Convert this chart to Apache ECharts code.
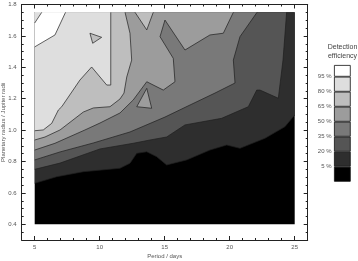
<!DOCTYPE html>
<html style="height: 100%">

<head>
    <meta charset="utf-8">
</head>

<body style="height: 100%; margin: 0; background: #fff">
    <div id="container" style="width: 358px; height: 261px"></div>
    <script src="https://cdn.jsdelivr.net/npm/echarts@6/dist/echarts.min.js"></script>
    <script type="text/javascript">
        var dom = document.getElementById("container");
        var myChart = echarts.init(dom);
        var font = "'Liberation Sans', Arial, sans-serif";

        // efficiency levels (%) and the grey used above each one
        var levels = [0, 5, 20, 35, 50, 65, 80, 95];
        var shades = ['#000000', '#2e2e2e', '#555555', '#797979', '#9c9c9c', '#bebebe', '#dedede', '#ffffff'];
        var levelLabels = ['5 %', '20 %', '35 %', '50 %', '65 %', '80 %', '95 %'];

        // axes
        var periodTicks = [5, 10, 15, 20, 25];
        var periodMinor = [4, 5, 6, 7, 8, 9, 10, 11, 12, 13, 14, 15, 16, 17, 18, 19, 20, 21, 22, 23, 24, 25, 26];
        var radiusTicks = [0.4, 0.6, 0.8, 1.0, 1.2, 1.4, 1.6, 1.8];
        var radiusMinor = [0.3, 0.35, 0.4, 0.45, 0.5, 0.55, 0.6, 0.65, 0.7, 0.75, 0.8, 0.85, 0.9, 0.95, 1.0,
            1.05, 1.1, 1.15, 1.2, 1.25, 1.3, 1.35, 1.4, 1.45, 1.5, 1.55, 1.6, 1.65, 1.7, 1.75, 1.8];

        // simulated grid extent
        var periodSpan = [5, 25];
        var radiusSpan = [0.4, 1.75];

        // contour lines [period, radius]; efficiency is above the level on the upper/left side
        var contour5 = [[5, 0.661], [6.69, 0.703], [8.74, 0.735], [11.56, 0.757], [12.33, 0.789], [12.85, 0.852],
            [13.62, 0.862], [14.38, 0.831], [15.15, 0.778], [16.69, 0.81], [18.48, 0.873], [19.77, 0.905],
            [20.79, 0.884], [22.72, 0.948], [24.25, 1.022], [25, 1.096]];
        var contour20 = [[5, 0.75], [6.95, 0.79], [10.02, 0.88], [12.58, 0.916], [13.87, 0.937], [15.15, 0.956],
            [16.56, 1.033], [19.38, 1.075], [21.43, 1.149], [22.08, 1.255], [22.33, 1.255], [23.74, 1.203],
            [24.1, 1.446], [24.38, 1.75]];
        var contour35 = [[5, 0.81], [6.95, 0.861], [9.51, 0.918], [12.33, 0.988], [15.02, 1.083], [16.95, 1.16],
            [18.87, 1.236], [20.41, 1.3], [20.28, 1.446], [20.79, 1.595], [22.1, 1.75]];
        var contour50 = [[5, 0.873], [6.56, 0.916], [8.87, 1.001], [10.02, 1.045], [11.56, 1.109], [12.58, 1.192],
            [13.62, 1.308], [14.89, 1.255], [15.79, 1.308], [15.66, 1.457], [14.64, 1.595], [15.02, 1.701],
            [16.56, 1.51], [18.48, 1.606], [19.51, 1.617], [20.28, 1.75]];
        var island50 = [[12.85, 1.149], [13.62, 1.266], [14.0, 1.139]];
        var contour65 = [[5, 0.937], [5.79, 0.956], [6.95, 1.001], [8.74, 1.115], [9.51, 1.141], [10.79, 1.149],
            [11.56, 1.198], [11.87, 1.236], [12.08, 1.338], [12.46, 1.446], [12.33, 1.617], [11.95, 1.75]];
        var notch65 = [[12.72, 1.75], [13.62, 1.638], [14.12, 1.75]];
        var contour80 = [[5, 0.996], [5.66, 1.001], [6.31, 1.043], [6.82, 1.128], [7.08, 1.149], [8.48, 1.319],
            [9.38, 1.402], [10.54, 1.287], [10.85, 1.287], [10.85, 1.75]];
        var hole80 = [[9.25, 1.617], [10.15, 1.591], [9.46, 1.553]];
        var contour95 = [[5, 1.53], [6.56, 1.606], [7.37, 1.75]];
        var corner95 = [[5, 1.682], [5.54, 1.75]];

        var shapes = [
            { level: 0, kind: 'base', line: [[periodSpan[0], radiusSpan[0]], [periodSpan[1], radiusSpan[0]],
                [periodSpan[1], radiusSpan[1]], [periodSpan[0], radiusSpan[1]]] },
            { level: 5, kind: 'edge', line: contour5 },
            { level: 20, kind: 'edge', line: contour20 },
            { level: 35, kind: 'edge', line: contour35 },
            { level: 50, kind: 'edge', line: contour50 },
            { level: 50, kind: 'island', line: island50 },
            { level: 65, kind: 'edge', line: contour65 },
            { level: 65, kind: 'edge', line: notch65 },
            { level: 80, kind: 'edge', line: contour80 },
            { level: 65, kind: 'island', line: hole80 },
            { level: 95, kind: 'edge', line: contour95 },
            { level: 80, kind: 'edge', line: corner95 }
        ];

        function renderItem(params, api) {
            var s = shapes[params.dataIndex];
            var pts = s.line.map(function(p) { return api.coord(p); });
            var fillPts = pts.slice();
            if (s.kind === 'edge') {
                var last = s.line[s.line.length - 1];
                if (last[0] >= periodSpan[1]) fillPts.push(api.coord([periodSpan[1], radiusSpan[1]]));
                fillPts.push(api.coord([periodSpan[0], radiusSpan[1]]));
            }
            var children = [{
                type: 'polygon',
                shape: { points: fillPts },
                style: { fill: shades[levels.indexOf(s.level)] }
            }];
            if (s.kind !== 'base') {
                children.push({
                    type: s.kind === 'island' ? 'polygon' : 'polyline',
                    shape: { points: pts },
                    style: { fill: null, stroke: '#1e1e1e', lineWidth: 0.7 }
                });
            }
            return { type: 'group', children: children, silent: true };
        }

        var tickLine = { color: '#222', width: 1 };
        var labelStyle = { fontSize: 6, color: '#555', fontFamily: font };

        function periodAxis(pos, ticks, len, main) {
            return {
                gridIndex: 0, type: 'value', position: pos, min: 4, max: 26,
                axisLine: { show: main !== false, onZero: false, lineStyle: tickLine },
                axisTick: { inside: true, length: len, customValues: ticks, lineStyle: tickLine },
                axisLabel: { show: false },
                splitLine: { show: false }
            };
        }

        function radiusAxis(pos, ticks, len, main) {
            return {
                gridIndex: 0, type: 'value', position: pos, min: 0.3, max: 1.8,
                axisLine: { show: main !== false, onZero: false, lineStyle: tickLine },
                axisTick: { inside: true, length: len, customValues: ticks, lineStyle: tickLine },
                axisLabel: { show: false },
                splitLine: { show: false }
            };
        }

        var xBottom = periodAxis('bottom', periodTicks, 4);
        xBottom.axisLabel = Object.assign({ customValues: periodTicks, margin: 4 }, labelStyle);
        xBottom.name = 'Period / days';
        xBottom.nameLocation = 'middle';
        xBottom.nameGap = 13;
        xBottom.nameMoveOverlap = false;
        xBottom.nameTextStyle = labelStyle;

        var yLeft = radiusAxis('left', radiusTicks, 4);
        yLeft.axisLabel = Object.assign({
            customValues: radiusTicks, margin: 5,
            formatter: function(v) { return v.toFixed(1); }
        }, labelStyle);
        yLeft.name = 'Planetary radius / Jupiter radii';
        yLeft.nameLocation = 'middle';
        yLeft.nameGap = 15;
        yLeft.nameMoveOverlap = false;
        yLeft.nameTextStyle = labelStyle;

        var legendTop = 7.78;

        option = {
            animation: false,
            backgroundColor: '#fff',
            title: {
                text: 'Detection\nefficiency',
                left: 342.5, top: 43, padding: 0, textAlign: 'center',
                textStyle: { fontSize: 7, fontWeight: 'normal', color: '#444', lineHeight: 8.5, fontFamily: font }
            },
            grid: [
                { left: 21.7, right: 50.3, top: 4.5, bottom: 21, containLabel: false, outerBoundsMode: 'none' },
                { left: 334, top: 65, width: 16.7, height: 116.7, containLabel: false, outerBoundsMode: 'none' }
            ],
            xAxis: [
                xBottom,
                periodAxis('bottom', periodMinor, 2, false),
                periodAxis('top', periodTicks, 4),
                periodAxis('top', periodMinor, 2, false),
                { gridIndex: 1, type: 'category', data: ['band'], show: false }
            ],
            yAxis: [
                yLeft,
                radiusAxis('left', radiusMinor, 2, false),
                radiusAxis('right', radiusTicks, 4),
                radiusAxis('right', radiusMinor, 2, false),
                {
                    gridIndex: 1, type: 'value', min: 0, max: legendTop,
                    axisLine: { show: false }, axisTick: { show: false }, splitLine: { show: false },
                    axisLabel: Object.assign({
                        customValues: [1, 2, 3, 4, 5, 6, 7], margin: 2.5, padding: [5, 0, 0, 0],
                        formatter: function(v) { return levelLabels[Math.round(v) - 1]; }
                    }, labelStyle)
                }
            ],
            series: [{
                type: 'custom',
                xAxisIndex: 0,
                yAxisIndex: 0,
                renderItem: renderItem,
                data: shapes.map(function(s, i) { return [s.line[0][0], s.line[0][1], i]; }),
                silent: true
            }].concat(levels.map(function(l, i) {
                return {
                    type: 'bar', xAxisIndex: 4, yAxisIndex: 4, stack: 'band', barWidth: '100%',
                    clip: false, silent: true,
                    data: [i === levels.length - 1 ? legendTop - 7 : 1],
                    itemStyle: { color: shades[i], borderColor: '#111', borderWidth: 0.8 }
                };
            }))
        };

        myChart.setOption(option);
    </script>
</body>

</html>
